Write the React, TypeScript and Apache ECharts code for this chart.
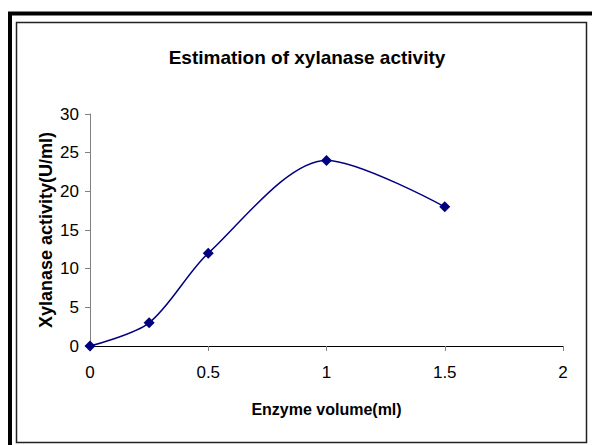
import React, { useEffect, useRef } from "react";
import * as echarts from "echarts";

const enzymeVolume = [0, 0.25, 0.5, 1, 1.5];
const activity = [0, 3, 12, 24, 18];
const titleText = "Estimation of xylanase activity";
const xName = "Enzyme volume(ml)";
const yName = "Xylanase activity(U/ml)";

const FONT = "'Liberation Sans', Arial, sans-serif";

export default function App() {
  const ref = useRef<HTMLDivElement>(null);
  useEffect(() => {
    const chart = echarts.init(ref.current!, null, { renderer: "svg" });
    chart.setOption({
      animation: false,
      backgroundColor: "#fff",
      title: {
        text: titleText,
        left: 302,
        textAlign: "center",
        top: 43,
        textStyle: { fontFamily: FONT, fontSize: 19, fontWeight: "bold", color: "#000" },
      },
      grid: { left: 90, right: 29, top: 114, bottom: 99, containLabel: false },
      xAxis: {
        type: "value",
        min: 0,
        max: 2,
        interval: 0.5,
        name: xName,
        nameLocation: "middle",
        nameGap: 55,
        nameMoveOverlap: false,
        nameTextStyle: { fontFamily: FONT, fontSize: 16, fontWeight: "bold", color: "#000" },
        axisLine: { show: true, onZero: false, lineStyle: { color: "#000", width: 1 } },
        axisTick: { show: true, inside: false, length: 5, lineStyle: { color: "#808080" } },
        axisLabel: { margin: 18, fontFamily: FONT, fontSize: 17, color: "#000" },
        splitLine: { show: false },
      },
      yAxis: {
        type: "value",
        min: 0,
        max: 30,
        interval: 5,
        name: yName,
        nameLocation: "middle",
        nameGap: 35,
        nameMoveOverlap: false,
        nameRotate: 90,
        nameTextStyle: { fontFamily: FONT, fontSize: 18, fontWeight: "bold", color: "#000" },
        axisLine: { show: true, lineStyle: { color: "#808080", width: 1 } },
        axisTick: { show: true, inside: false, length: 5, lineStyle: { color: "#808080" } },
        axisLabel: { margin: 11, fontFamily: FONT, fontSize: 17, color: "#000" },
        splitLine: { show: false },
      },
      series: [
        {
          type: "line",
          data: enzymeVolume.map((x, i) => [x, activity[i]]),
          smooth: 0.3,
          symbol: "diamond",
          symbolSize: 11,
          itemStyle: { color: "#000080" },
          lineStyle: { color: "#000080", width: 1.5 },
        },
      ],
      graphic: [
        {
          type: "rect",
          shape: { x: 10, y: 13.5, width: 620, height: 480 },
          style: { fill: "none", stroke: "#000", lineWidth: 4 },
          z: 10,
        },
        {
          type: "rect",
          shape: { x: 16.5, y: 22.5, width: 570, height: 420 },
          style: { fill: "none", stroke: "#222", lineWidth: 1.5 },
          z: 10,
        },
      ],
    });
    return () => chart.dispose();
  }, []);
  return (
    <div
      ref={ref}
      style={{ position: "fixed", left: 0, top: 0, width: 592, height: 445, background: "#fff" }}
    />
  );
}
